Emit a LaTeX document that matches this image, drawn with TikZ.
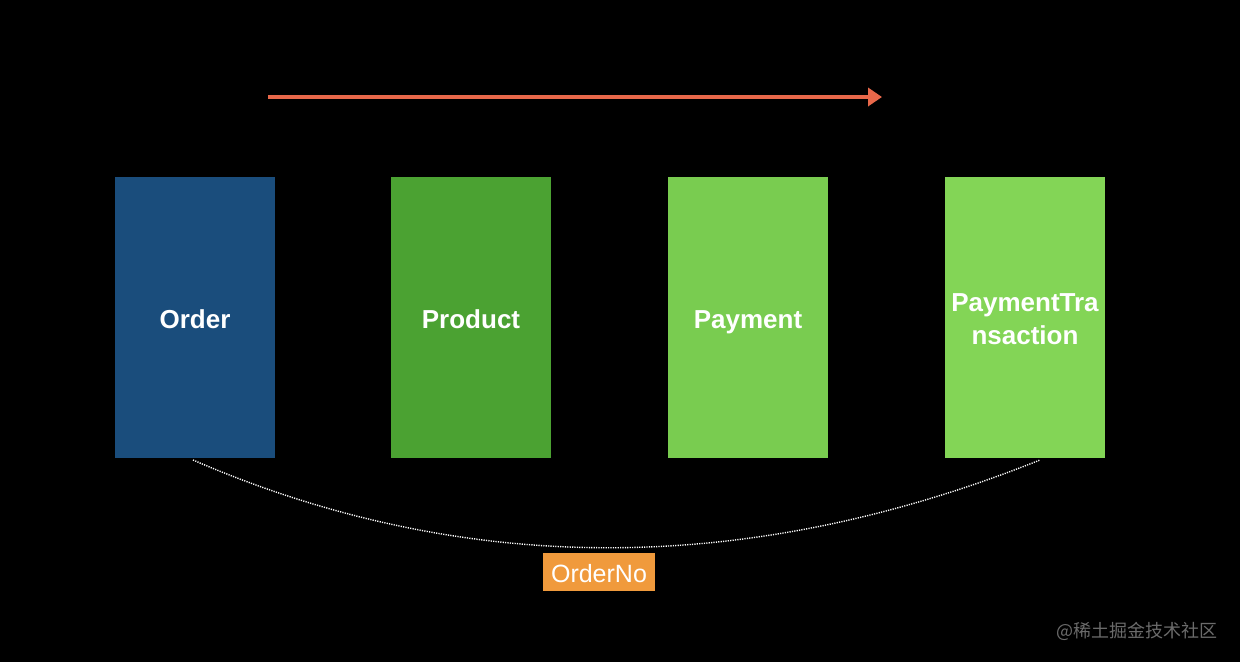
\documentclass[tikz,border=0pt]{standalone}
\usepackage{fontspec}
\setmainfont{Liberation Sans}
\newfontfamily\cjk{Noto Sans CJK SC}
\usepackage{tikz}
\usetikzlibrary{arrows.meta}

\definecolor{orderblue}{HTML}{1A4D7C}
\definecolor{productgreen}{HTML}{4BA232}
\definecolor{paygreen}{HTML}{79CC50}
\definecolor{transgreen}{HTML}{83D556}
\definecolor{flowred}{HTML}{E8684A}
\definecolor{keyorange}{HTML}{F09A3C}
\definecolor{markgray}{HTML}{6B6B6B}

\tikzset{
entity/.style={minimum width=160pt,minimum height=281pt,inner sep=0pt,text=white,
 font=\fontsize{26}{33}\selectfont\bfseries,align=center,text width=156pt},
oneline/.style={text height=21pt,text depth=0pt}
}

\begin{document}
\begin{tikzpicture}[x=1pt,y=-1pt]
\fill[black] (0,0) rectangle (1240,662);

\draw[flowred,line width=4pt,-{Triangle[length=14pt,width=18pt]}] (268,97) -- (882,97);

\node[entity,oneline,fill=orderblue] (order) at (195,317.5) {Order};
\node[entity,oneline,fill=productgreen] (product) at (471,317.5) {Product};
\node[entity,oneline,fill=paygreen] (payment) at (748,317.5) {Payment};
\node[entity,fill=transgreen] (paytrans) at (1025,317.5) {\rule{0pt}{22pt}PaymentTra\\nsaction};

\coordinate (a) at (193,460);
\coordinate (b) at (1040,460);
\draw[white,dash pattern=on 1.2pt off 1.2pt,line width=1.4pt] (a) .. controls (464,577) and (747,577) .. (b);

\node[fill=keyorange,text=white,minimum width=112pt,minimum height=38pt,inner sep=0pt,
 text height=20pt,text depth=0pt,font=\fontsize{25}{28}\selectfont] (orderno) at (599,572) {OrderNo};

\node[anchor=east,text=markgray,font=\cjk\fontsize{18}{20}\selectfont,inner sep=0pt] (mark) at (1218,631) {@稀土掘金技术社区};
\end{tikzpicture}
\end{document}
